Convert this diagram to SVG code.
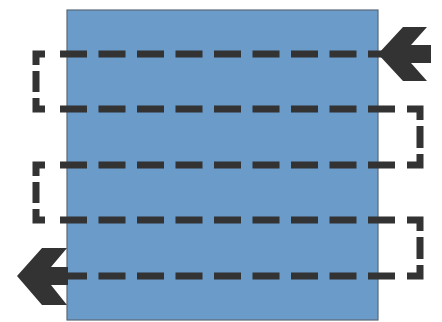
<svg xmlns="http://www.w3.org/2000/svg" width="442" height="322" viewBox="0 0 442 322">
  <style>
    .block { fill: #6b9bc9; stroke: #5a6878; stroke-width: 1.2; }
    .flow { fill: none; stroke: #333333; stroke-width: 7; stroke-linejoin: miter; stroke-linecap: butt; }
    .head { fill: #333333; stroke: none; }
  </style>
  <defs>
    <path id="row" d="M60,0 h27 M98.5,0 h27 M137,0 h27 M175.5,0 h27 M214,0 h27 M252.5,0 h27 M291,0 h27 M329.5,0 h27 M368,0 h27"/>
  </defs>
  <rect width="442" height="322" fill="#ffffff"/>
  <g id="block">
    <rect class="block" x="67" y="10" width="311" height="310"/>
  </g>
  <g id="connectors">
    <use href="#row" class="flow" y="54"/>
    <use href="#row" class="flow" y="109"/>
    <use href="#row" class="flow" y="165"/>
    <use href="#row" class="flow" y="220"/>
    <use href="#row" class="flow" y="276"/>
    <path class="flow" d="M45,54 H36 V65 M36,71 V92 M36,98 V109 H45"/>
    <path class="flow" d="M407,109 H420 V120 M420,126 V148 M420,154 V165 H407"/>
    <path class="flow" d="M45,165 H36 V176 M36,182 V203 M36,209 V220 H45"/>
    <path class="flow" d="M407,220 H420 V231 M420,237 V259 M420,265 V276 H407"/>
    <polygon id="arrow-in" class="head" points="378,54 403,27 427,27 411,45 431,45 431,63 411,63 427,81 403,81"/>
    <polygon id="arrow-out" class="head" points="17,276 42,248 67,248 51,267 68,267 68,285 51,285 67,305 42,305"/>
  </g>
</svg>
